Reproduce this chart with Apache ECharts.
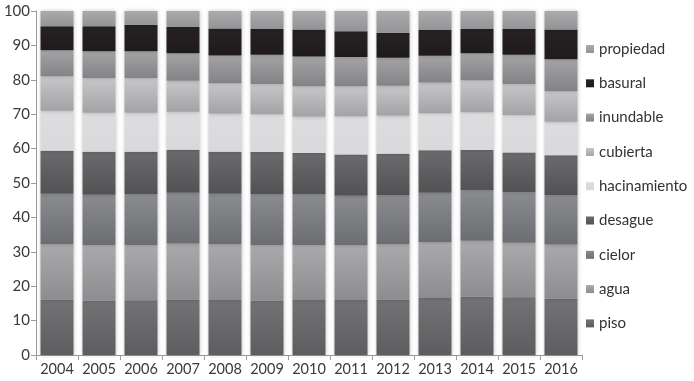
<!DOCTYPE html>
<html>
<head>
<meta charset="utf-8">
<script src="https://cdn.jsdelivr.net/npm/echarts@6/dist/echarts.min.js"></script>
<style>
html,body{margin:0;padding:0;background:#fff;}
#c{width:694px;height:381px;}
</style>
</head>
<body>
<div id="c"></div>
<script>
var years = ['2004','2005','2006','2007','2008','2009','2010','2011','2012','2013','2014','2015','2016'];
var piso         = [16.1,15.8,15.9,16.1,16.0,15.8,16.0,16.0,16.1,16.6,16.9,16.8,16.4];
var agua         = [16.1,16.2,16.1,16.3,16.2,16.2,16.0,15.9,16.1,16.2,16.3,15.8,15.7];
var cielor       = [14.7,14.6,14.7,14.8,14.7,14.8,14.7,14.4,14.3,14.4,14.7,14.7,14.4];
var desague      = [12.5,12.5,12.4,12.5,12.2,12.2,12.0,12.0,12.0,12.3,11.7,11.6,11.6];
var hacinamiento = [11.6,11.3,11.3,11.0,11.1,11.0,10.6,11.1,11.1,10.8,11.0,10.9,9.7];
var cubierta     = [10.0,10.1,10.1,9.0,8.8,8.8,8.8,8.7,8.7,8.9,9.3,9.0,8.9];
var inundable    = [7.6,7.8,7.8,8.0,8.1,8.5,8.7,8.5,8.1,7.8,7.8,8.5,9.3];
var basural      = [7.0,7.3,7.7,7.7,7.8,7.5,7.8,7.5,7.3,7.5,7.1,7.5,8.6];
var propiedad    = [4.4,4.4,4.0,4.6,5.1,5.2,5.4,5.9,6.3,5.5,5.2,5.2,5.4];
var yTicks = [0,10,20,30,40,50,60,70,80,90,100];

var seriesDefs = [
  ['piso', piso, '#737376', '#5d5d60'],
  ['agua', agua, '#aaaaad', '#8d8d90'],
  ['cielor', cielor, '#8b8c8f', '#6c6d70'],
  ['desague', desague, '#6b6b6e', '#525255'],
  ['hacinamiento', hacinamiento, '#dddddf', '#d9d9db'],
  ['cubierta', cubierta, '#c7c7ca', '#a3a3a6'],
  ['inundable', inundable, '#a4a4a7', '#838386'],
  ['basural', basural, '#262223', '#1f1b1c'],
  ['propiedad', propiedad, '#ababae', '#949497']
];
var FONT = 'Lato';
var chart = echarts.init(document.getElementById('c'), null, {renderer:'canvas'});
var series = seriesDefs.map(function(d){
  return {
    name: d[0], type: 'bar', stack: 'all', barWidth: 33,
    data: d[1],
    itemStyle: {
      color: new echarts.graphic.LinearGradient(0,0,0,1,[{offset:0,color:d[2]},{offset:1,color:d[3]}]),
      shadowBlur: 4, shadowColor: 'rgba(0,0,0,0.22)'
    },
    emphasis: {disabled: true}
  };
});
chart.setOption({
  animation: false,
  backgroundColor: '#fff',
  grid: {left: 36, right: 112, top: 11, bottom: 26},
  legend: {
    orient: 'vertical', left: 581, top: 36,
    data: seriesDefs.map(function(d){return d[0];}).reverse(),
    icon: 'rect', itemWidth: 8, itemHeight: 8, itemGap: 18.3,
    textStyle: {fontFamily: FONT, fontSize: 15, color: '#333', lineHeight: 16}
  },
  xAxis: {
    type: 'category', data: years,
    axisLine: {lineStyle: {color: '#9a9a9a', width: 1}},
    axisTick: {show: true, length: 5, lineStyle: {color: '#9a9a9a'}},
    axisLabel: {fontFamily: FONT, fontSize: 14.5, color: '#3a3a3a', margin: 7, interval: 0, hideOverlap: false}
  },
  yAxis: {
    type: 'value', min: 0, max: 100, interval: 10,
    splitLine: {show: false},
    axisLine: {show: true, lineStyle: {color: '#9a9a9a', width: 1}},
    axisTick: {show: true, length: 5, lineStyle: {color: '#9a9a9a'}},
    axisLabel: {fontFamily: FONT, fontSize: 15, color: '#3a3a3a', margin: 6,
      formatter: function(v){ return yTicks.indexOf(v) >= 0 ? String(v) : ''; }}
  },
  series: series
});
</script>
</body>
</html>
